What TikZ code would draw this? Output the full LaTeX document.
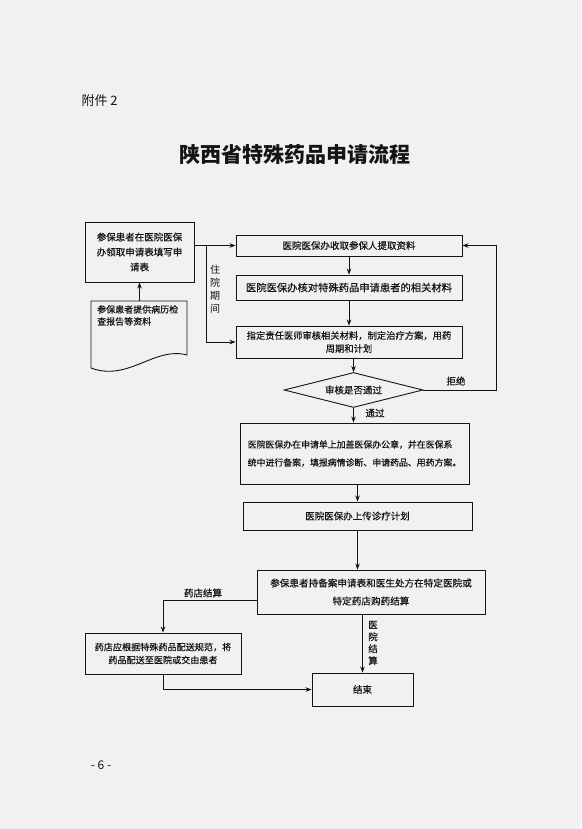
\documentclass[tikz,border=0pt]{standalone}
\usepackage{fontspec}
\setmainfont{Noto Sans CJK SC}
\newfontfamily\inkfont{Noto Sans CJK SC}[FakeBold=0.4]
\usepackage{tikz}
\usetikzlibrary{arrows.meta, calc, shapes.geometric}
\definecolor{paperbg}{HTML}{F1F1F1}
\definecolor{inkline}{HTML}{141414}
\tikzset{
  flowbox/.style={draw=inkline, line width=0.9pt, inner sep=0pt, align=center,
    text=inkline, font=\inkfont\fontsize{9.5}{15}\selectfont},
  flowarrow/.style={draw=inkline, line width=0.8pt, -{Stealth[length=6pt,width=4.5pt]}},
  flowlabel/.style={inner sep=0pt, text=inkline, font=\inkfont\fontsize{9.5}{12}\selectfont},
}

\begin{document}
\begin{tikzpicture}[x=1pt, y=-1pt]

  %% page: 581 x 829, y runs downwards
  \fill[paperbg] (0,0) rectangle (581,829);
  \useasboundingbox (0,0) rectangle (581,829);

  \node[font=\fontsize{13}{13}\selectfont, anchor=west, text=inkline] (annex) at (78,101) {附件 2};
  \node[font=\fontsize{21}{21}\selectfont\bfseries, text=inkline] (title) at (295,155) {陕西省特殊药品申请流程};

  %% left column: application form + patient records
  \node[flowbox, minimum width=109pt, minimum height=60pt] (apply) at (139.5,252)
    {参保患者在医院医保\\办领取申请表填写申\\请表};
  \draw[draw=inkline, line width=0.9pt] (91,301) -- (187,301) -- (187,355)
    .. controls (155,346) and (128,382) .. (91,368) -- cycle;
  \node[flowlabel, anchor=north west, align=left, font=\inkfont\fontsize{9}{12}\selectfont] (records) at (97,305)
    {参保患者提供病历检\\查报告等资料};
  \coordinate (recordsTop) at (139.5,301);
  \draw[flowarrow] (recordsTop) -- (apply.south);

  %% main column: B 235-256  C 275-300  D 326-358
  \node[flowbox, minimum width=226pt, minimum height=21pt] (collect) at (349,245.5)
    {医院医保办收取参保人提取资料};
  \node[flowbox, minimum width=226pt, minimum height=25pt, font=\inkfont\fontsize{10.3}{15}\selectfont] (verify) at (349,287.5)
    {医院医保办核对特殊药品申请患者的相关材料};
  \node[flowbox, minimum width=226pt, minimum height=32pt, font=\inkfont\fontsize{9.3}{13}\selectfont] (assign) at (349,342)
    {指定责任医师审核相关材料，制定治疗方案，用药\\周期和计划};
  \node[draw=inkline, line width=0.9pt, diamond, aspect=4, minimum width=139pt, minimum height=35pt,
    inner sep=0pt, text=inkline, font=\inkfont\fontsize{9.5}{12}\selectfont] (check) at (353.5,390) {审核是否通过};

  \draw[flowarrow] (apply.east |- collect.west) -- (collect.west);
  \coordinate (stayFork) at (206,245.5);
  \draw[flowarrow] (stayFork) |- (assign.west);
  \node[flowlabel, align=center, font=\fontsize{10}{13}\selectfont] (stayLabel) at (215,289) {住\\院\\期\\间};

  \draw[flowarrow] (collect) -- (verify);
  \draw[flowarrow] (verify) -- (assign);
  \draw[flowarrow] (assign.south -| check.north) -- (check.north);

  %% rejected: back to the top box
  \coordinate (rejectTurn) at (496,390);
  \draw[flowarrow] (check.east) -- (rejectTurn) |- (collect.east);
  \node[flowlabel] (rejectLabel) at (456,381) {拒绝};

  %% approved
  \node[flowbox, minimum width=229pt, minimum height=61pt, align=left, font=\inkfont\fontsize{8.9}{18}\selectfont] (record) at (354.5,453.5)
    {医院医保办在申请单上加盖医保办公章，并在医保系\\统中进行备案，填报病情诊断、申请药品、用药方案。};
  \draw[flowarrow] (check.south) -- (check.south |- record.north);
  \node[flowlabel] (passLabel) at (375,413) {通过};

  \node[flowbox, minimum width=229pt, minimum height=28pt] (upload) at (357.5,516)
    {医院医保办上传诊疗计划};
  \draw[flowarrow] (upload.north |- record.south) -- (upload.north);

  \node[flowbox, minimum width=228pt, minimum height=44pt, font=\inkfont\fontsize{9.6}{18}\selectfont] (settle) at (371,592)
    {参保患者持备案申请表和医生处方在特定医院或\\特定药店购药结算};
  \draw[flowarrow] (upload.south) -- (upload.south |- settle.north);

  %% two ways of settling
  \node[flowbox, minimum width=156pt, minimum height=41pt, font=\inkfont\fontsize{9.1}{13}\selectfont] (deliver) at (163,653.5)
    {药店应根据特殊药品配送规范，将\\药品配送至医院或交由患者};
  \node[flowbox, minimum width=101pt, minimum height=33pt] (finish) at (362.5,689.5) {结束};

  \draw[flowarrow] ([yshift=-8pt]settle.west) -| (deliver.north);
  \node[flowlabel] (pharmacyLabel) at (203,593) {药店结算};
  \draw[flowarrow] (settle.south -| finish.north) -- (finish.north);
  \node[flowlabel, align=center] (hospitalLabel) at (373,643) {医\\院\\结\\算};
  \draw[flowarrow] (deliver.south) |- (finish.west);

  \node[font=\fontsize{12}{12}\selectfont, text=inkline] (pageNo) at (101,765) {- 6 -};

\end{tikzpicture}
\end{document}
